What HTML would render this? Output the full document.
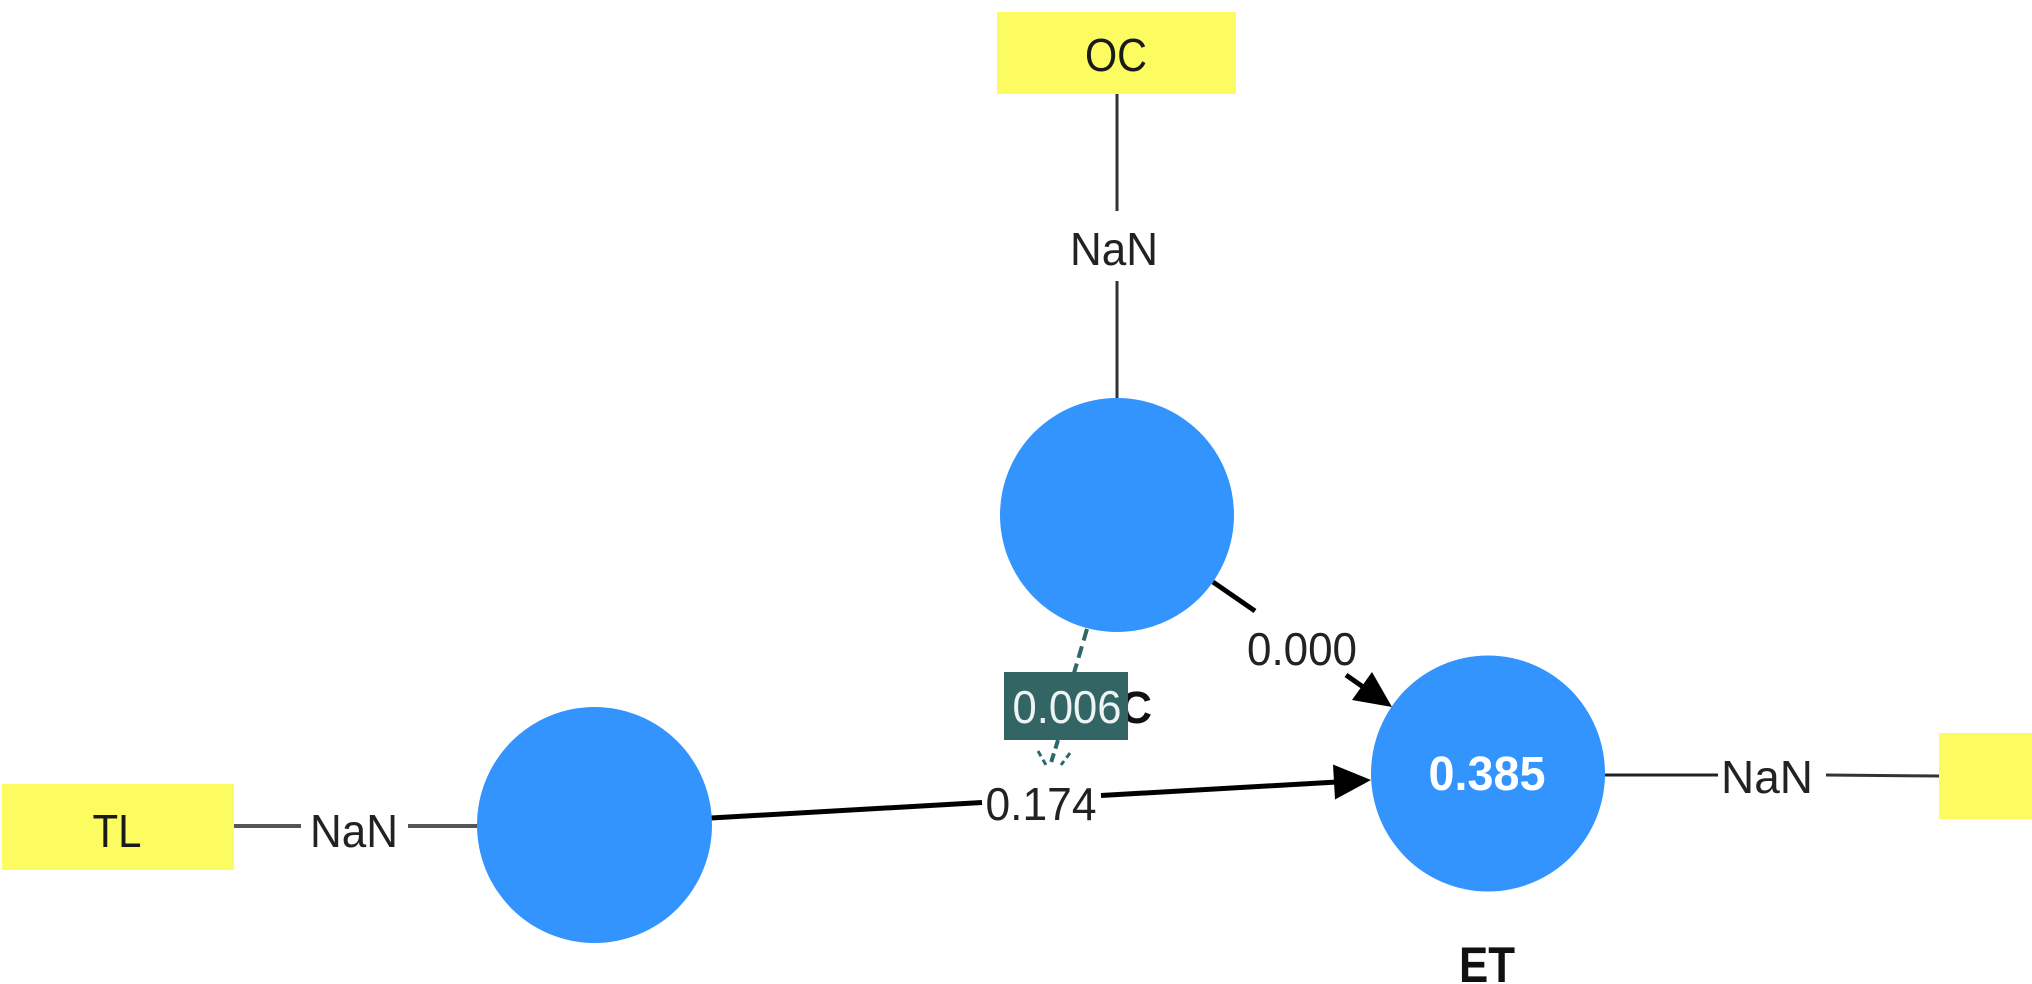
<!DOCTYPE html>
<html>
<head>
<meta charset="utf-8">
<style>
  html,body{margin:0;padding:0;background:#fff;}
  svg{display:block;}
  text{font-family:"Liberation Sans", Arial, sans-serif;}
</style>
</head>
<body>
<svg width="2032" height="984" viewBox="0 0 2032 984" xmlns="http://www.w3.org/2000/svg">
  <rect x="0" y="0" width="2032" height="984" fill="#ffffff"/>

  <!-- OC indicator box -->
  <rect x="997" y="12" width="239" height="82" fill="#FCFB5F"/>
  <text x="1116" y="71" font-size="46" text-anchor="middle" textLength="62" lengthAdjust="spacingAndGlyphs" fill="#1a1a1a">OC</text>

  <!-- OC vertical line -->
  <line x1="1117" y1="94" x2="1117" y2="211" stroke="#333" stroke-width="3"/>
  <line x1="1117" y1="281" x2="1117" y2="400" stroke="#333" stroke-width="3"/>
  <text x="1114" y="265" font-size="46" text-anchor="middle" textLength="88" lengthAdjust="spacingAndGlyphs" fill="#222">NaN</text>

  <!-- TL indicator -->
  <rect x="2" y="784" width="232" height="86" fill="#FCFB5F"/>
  <text x="117" y="847" font-size="46" text-anchor="middle" textLength="49" lengthAdjust="spacingAndGlyphs" fill="#1a1a1a">TL</text>
  <line x1="234" y1="826" x2="301" y2="826" stroke="#555" stroke-width="4"/>
  <line x1="408" y1="826" x2="479" y2="826" stroke="#555" stroke-width="4"/>
  <text x="354" y="847" font-size="46" text-anchor="middle" textLength="88" lengthAdjust="spacingAndGlyphs" fill="#222">NaN</text>

  <!-- ET right indicator -->
  <line x1="1602" y1="775" x2="1718" y2="775" stroke="#222" stroke-width="3"/>
  <line x1="1826" y1="775" x2="1940" y2="776" stroke="#333" stroke-width="3"/>
  <text x="1767" y="793" font-size="46" text-anchor="middle" textLength="92" lengthAdjust="spacingAndGlyphs" fill="#222">NaN</text>
  <rect x="1939" y="733" width="93" height="86" fill="#FCFB5F"/>

  <!-- TL -> ET path -->
  <line x1="711" y1="818" x2="982" y2="802.5" stroke="#000" stroke-width="5"/>
  <line x1="1101" y1="795.5" x2="1337" y2="782" stroke="#000" stroke-width="5"/>
  <polygon points="1371,780 1335,799.5 1333,764.5" fill="#000"/>
  <text x="1041" y="820" font-size="46" text-anchor="middle" textLength="111" lengthAdjust="spacingAndGlyphs" fill="#222">0.174</text>

  <!-- OC -> ET path -->
  <line x1="1213" y1="582" x2="1255" y2="611" stroke="#000" stroke-width="5"/>
  <line x1="1346" y1="675" x2="1366" y2="689" stroke="#000" stroke-width="5"/>
  <polygon points="1392,707 1352,700 1372,672" fill="#000"/>
  <text x="1302" y="665" font-size="46" text-anchor="middle" textLength="110" lengthAdjust="spacingAndGlyphs" fill="#222">0.000</text>

  <!-- Circles -->
  <circle cx="1117" cy="515" r="117" fill="#3394FE"/>
  <ellipse cx="594.5" cy="825" rx="117.5" ry="118" fill="#3394FE"/>
  <ellipse cx="1488" cy="773.5" rx="117" ry="118" fill="#3394FE"/>

  <text x="1487" y="790" font-size="48" font-weight="bold" text-anchor="middle" textLength="117" lengthAdjust="spacingAndGlyphs" fill="#ffffff">0.385</text>
  <text x="1487" y="982" font-size="50" font-weight="bold" text-anchor="middle" textLength="56" lengthAdjust="spacingAndGlyphs" fill="#111">ET</text>

  <!-- OC bold label (mostly hidden by moderator box) -->
  <text x="1152" y="723" font-size="45" font-weight="bold" text-anchor="end" fill="#111">OC</text>

  <!-- moderating dashed effect -->
  <line x1="1087" y1="629" x2="1074" y2="673" stroke="#2F6868" stroke-width="4" stroke-dasharray="12,6"/>
  <line x1="1058" y1="740" x2="1050" y2="766" stroke="#2F6868" stroke-width="4" stroke-dasharray="9,5"/>
  <line x1="1038" y1="751" x2="1046" y2="765" stroke="#2F6868" stroke-width="3" stroke-dasharray="6,4"/>
  <line x1="1070" y1="753" x2="1061" y2="765" stroke="#2F6868" stroke-width="3" stroke-dasharray="6,4"/>
  <rect x="1004" y="672" width="124" height="68" fill="#336565"/>
  <text x="1067" y="723" font-size="46" text-anchor="middle" textLength="109" lengthAdjust="spacingAndGlyphs" fill="#EEF4F4">0.006</text>
</svg>
</body>
</html>
